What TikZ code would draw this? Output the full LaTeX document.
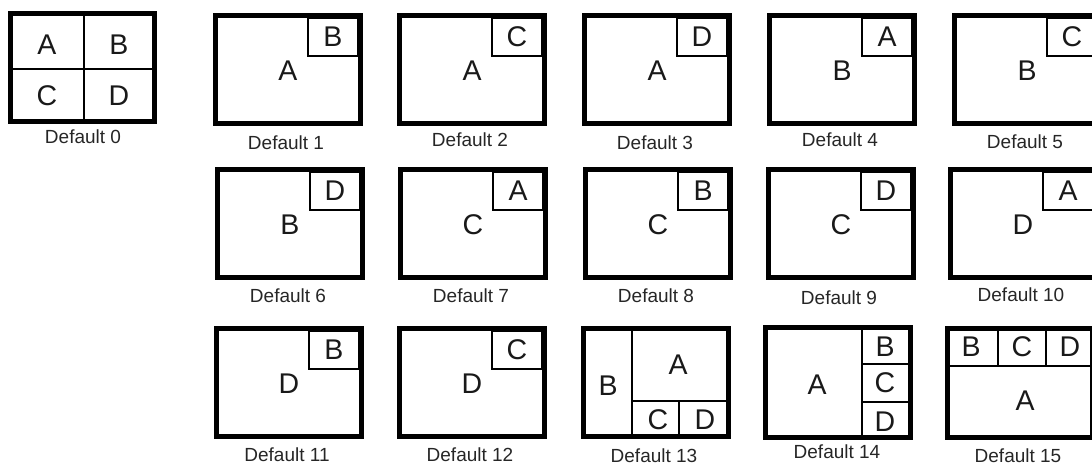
\documentclass[tikz,border=0pt]{standalone}
\usepackage{fontspec}
\setmainfont{Liberation Sans}
\newcommand\pipframe[7]{%
  \draw[frame] (#2+2.5,#3+2.5) rectangle (#2+147.5,#3+110.5);
  \draw[divline] (#2+95,#3+5) rectangle (#2+145,#3+43);
  \node[big] (m#1) at (#2+75,#3+58) {#4};
  \node[big] (p#1) at (#2+120,#3+24) {#5};
  \node[lab] (l#1) at (#2+73,#3+#7) {Default #6};
}
\begin{document}
\begin{tikzpicture}[x=1pt,y=-1pt,
  frame/.style={draw=black,line width=5pt},
  divline/.style={draw=black,line width=1.3pt},
  big/.style={inner sep=0pt,font=\fontsize{28.5}{28}\selectfont,text=black!90},
  lab/.style={inner sep=0pt,font=\fontsize{19}{19}\selectfont,text=black!85}]
\useasboundingbox (0,0) rectangle (1092,466);
\clip (0,0) rectangle (1092,466);
% Default 0
\draw[frame] (8+2.5,11+2.5) rectangle (157-2.5,124-2.5);
\draw[divline] (84,13) -- (84,122);
\draw[divline] (10,69) -- (155,69);
\node[big] (d0a) at (47,45) {A};
\node[big] (d0b) at (119,45) {B};
\node[big] (d0c) at (47,96) {C};
\node[big] (d0d) at (119,96) {D};
\node[lab] (l0) at (83,137) {Default 0};
% row 1
\pipframe{1}{213}{13}{A}{B}{1}{130}
\pipframe{2}{397}{13}{A}{C}{2}{127}
\pipframe{3}{582}{13}{A}{D}{3}{130}
\pipframe{4}{767}{13}{B}{A}{4}{127}
\pipframe{5}{952}{13}{B}{C}{5}{129}
% row 2
\pipframe{6}{215}{167}{B}{D}{6}{129}
\pipframe{7}{398}{167}{C}{A}{7}{129}
\pipframe{8}{583}{167}{C}{B}{8}{129}
\pipframe{9}{766}{167}{C}{D}{9}{131}
\pipframe{10}{948}{167}{D}{A}{10}{128}
% row 3
\pipframe{11}{214}{326}{D}{B}{11}{129}
\pipframe{12}{397}{326}{D}{C}{12}{129}
% Default 13
\draw[frame] (581+2.5,326+2.5) rectangle (581+147.5,326+110.5);
\draw[divline] (581+51,326+5) -- (581+51,326+108);
\draw[divline] (581+51,326+75) -- (581+145,326+75);
\draw[divline] (581+98,326+75) -- (581+98,326+108);
\node[big] (d13b) at (581+27,326+60) {B};
\node[big] (d13a) at (581+97,326+39) {A};
\node[big] (d13c) at (581+77,326+94) {C};
\node[big] (d13d) at (581+124,326+94) {D};
\node[lab] (l13) at (581+73,326+130) {Default 13};
% Default 14
\draw[frame] (763+2.5,325+2.5) rectangle (763+147.5,325+112.5);
\draw[divline] (763+99,325+5) -- (763+99,325+110);
\draw[divline] (763+99,325+39) -- (763+145,325+39);
\draw[divline] (763+99,325+77) -- (763+145,325+77);
\node[big] (d14a) at (763+54,325+60) {A};
\node[big] (d14b) at (763+122,325+22) {B};
\node[big] (d14c) at (763+122,325+58) {C};
\node[big] (d14d) at (763+122,325+97) {D};
\node[lab] (l14) at (763+74,325+127) {Default 14};
% Default 15
\draw[frame] (945+2.5,326+2.5) rectangle (945+147.5,326+111.5);
\draw[divline] (945+5,326+40) -- (945+145,326+40);
\draw[divline] (945+53,326+5) -- (945+53,326+40);
\draw[divline] (945+101,326+5) -- (945+101,326+40);
\node[big] (d15b) at (945+26,326+21) {B};
\node[big] (d15c) at (945+77,326+21) {C};
\node[big] (d15d) at (945+125,326+21) {D};
\node[big] (d15a) at (945+80,326+75) {A};
\node[lab] (l15) at (945+73,326+130) {Default 15};
\end{tikzpicture}
\end{document}
